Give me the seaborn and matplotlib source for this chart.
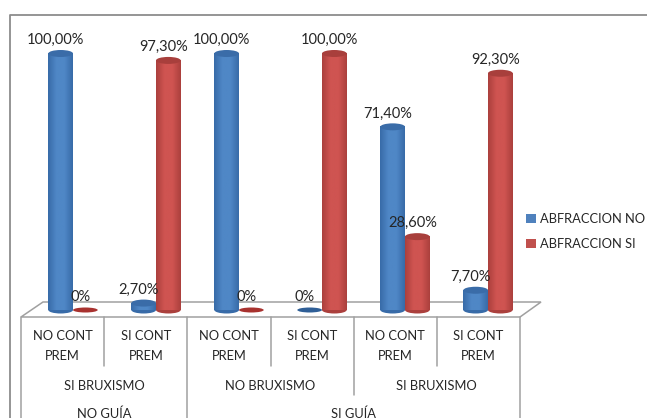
import numpy as np
import pandas as pd
import seaborn as sns
import matplotlib
matplotlib.use("Agg")
import matplotlib.pyplot as plt
from matplotlib.patches import Ellipse, Polygon, Patch
from matplotlib.colors import LinearSegmentedColormap

W, H = 647, 418
categories = ["NO CONT\nPREM", "SI CONT\nPREM", "NO CONT\nPREM", "SI CONT\nPREM", "NO CONT\nPREM", "SI CONT\nPREM"]
bruxismo = ["SI BRUXISMO", "NO BRUXISMO", "SI BRUXISMO"]
guia = ["NO GUÍA", "SI GUÍA"]
abfraccion_no = [100.0, 2.7, 100.0, 0.0, 71.4, 7.7]
abfraccion_si = [0.0, 97.3, 0.0, 100.0, 28.6, 92.3]
labels_no = ["100,00%", "2,70%", "100,00%", "0%", "71,40%", "7,70%"]
labels_si = ["0%", "97,30%", "0%", "100,00%", "28,60%", "92,30%"]
series = ["ABFRACCION NO", "ABFRACCION SI"]

sns.set_theme(style="white")
plt.rcParams["font.family"] = ["Lato", "DejaVu Sans"]
FS = 9.3
FN = 10.5
TXT = "#262626"
LINE = "#a0a0a0"

fig = plt.figure(figsize=(W / 100, H / 100), dpi=100, facecolor="white")
bg = fig.add_axes([0, 0, 1, 1])
bg.set_xlim(0, W); bg.set_ylim(H, 0); bg.axis("off")

# Chart frame (open on the right and bottom)
bg.plot([9.5, 9.5, W], [H, 14.5, 14.5], color="#8c8c8c", lw=1.3)

# Floor
bg.add_patch(Polygon([[21, 317], [43, 302], [541, 302], [520, 317]], closed=True,
                     fc="white", ec=LINE, lw=1.1))

# Table
xs = [21 + 83.17 * i for i in range(7)]
bg.plot([xs[0], xs[0]], [317, H], color=LINE, lw=1.1)
bg.plot([xs[6], xs[6]], [317, H], color=LINE, lw=1.1)
for i in (1, 3, 5):
    bg.plot([xs[i], xs[i]], [317, 366], color=LINE, lw=1.1)
bg.plot([xs[2], xs[2]], [317, H], color=LINE, lw=1.1)
bg.plot([xs[4], xs[4]], [317, 395], color=LINE, lw=1.1)
for i, c in enumerate(categories):
    bg.text((xs[i] + xs[i + 1]) / 2, 346, c, ha="center", va="center", fontsize=FS,
            color=TXT, linespacing=1.7)
for i, b in enumerate(bruxismo):
    bg.text((xs[2 * i] + xs[2 * i + 2]) / 2, 386, b, ha="center", va="center", fontsize=FS, color=TXT)
bg.text((xs[0] + xs[2]) / 2, 413.5, guia[0], ha="center", va="center", fontsize=FS, color=TXT)
bg.text((xs[2] + xs[6]) / 2, 413.5, guia[1], ha="center", va="center", fontsize=FS, color=TXT)

# Data axes: baseline at y=310 px, 100% at y=53.5 px, groups 83 px apart
x0, x1, ybase, ytop = 31.5, 529.5, 310, 53.5
ax = fig.add_axes([x0 / W, 1 - ybase / H, (x1 - x0) / W, (ybase - ytop) / H])
ax.patch.set_alpha(0)
df = pd.DataFrame({
    "group": list(range(6)) * 2,
    "value": abfraccion_no + abfraccion_si,
    "serie": [series[0]] * 6 + [series[1]] * 6,
})
sns.barplot(data=df, x="group", y="value", hue="serie", hue_order=series,
            palette=["#4F81BD", "#C0504D"], width=0.595, gap=0, ax=ax, legend=False,
            linewidth=0, saturation=1)
ax.set_xlim(-0.5, 5.5); ax.set_ylim(0, 100)
ax.axis("off")

pal = [
    dict(edge="#386ba8", mid="#4f87c6", top="#3a6ca8", flat="#2f5f97"),
    dict(edge="#ab403d", mid="#cf5451", top="#a83f3c", flat="#a8322f"),
]
ell_h = 7 / (ybase - ytop) * 100
flat_h = 5 / (ybase - ytop) * 100
for k, (cont, labs) in enumerate(zip(ax.containers, (labels_no, labels_si))):
    c = pal[k]
    cmap = LinearSegmentedColormap.from_list("c", [c["edge"], c["mid"], c["mid"], c["edge"]])
    for p, lab in zip(cont, labs):
        x, w, h = p.get_x(), p.get_width(), p.get_height()
        cx = x + w / 2
        if h > 0:
            p.set_visible(False)
            grad = np.linspace(0, 1, 64).reshape(1, -1)
            ax.add_patch(Ellipse((cx, 0), w, ell_h, fc=c["edge"], ec="none", clip_on=False, zorder=3))
            ax.imshow(grad, extent=(x, x + w, 0, h), aspect="auto", cmap=cmap, zorder=3.1, clip_on=False)
            ax.add_patch(Ellipse((cx, h), w, ell_h, fc=c["top"], ec="none", clip_on=False, zorder=3.2))
        else:
            ax.add_patch(Ellipse((cx, 0), w, flat_h, fc=c["flat"], ec="none", clip_on=False, zorder=3))
        ax.annotate(lab, (cx, h), xytext=(-3.6, 9.6), textcoords="offset points",
                    ha="center", va="center", fontsize=FN, color=TXT, zorder=5, annotation_clip=False)
ax.set_xlim(-0.5, 5.5); ax.set_ylim(0, 100)

# Legend
handles = [Patch(fc="#4F81BD", ec="none", label=series[0]), Patch(fc="#C0504D", ec="none", label=series[1])]
fig.legend(handles=handles, loc="center left", bbox_to_anchor=(526 / W, 1 - 231.5 / H), frameon=False,
           fontsize=FS, handlelength=0.75, handleheight=0.75, handletextpad=0.35,
           labelspacing=1.0, labelcolor=TXT, borderpad=0, borderaxespad=0)

fig.savefig("out.png", dpi=100, facecolor="white")
